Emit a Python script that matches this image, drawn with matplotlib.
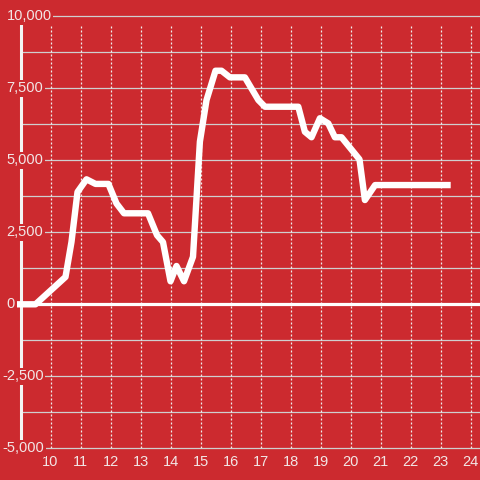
import matplotlib.pyplot as plt
import numpy as np

plt.rcParams['font.family'] = ['Liberation Sans', 'DejaVu Sans']

# series
x_vals = [8.87, 9.5, 10.5, 10.7, 10.9, 11.2, 11.5, 11.93, 12.2, 12.45, 13.25,
          13.55, 13.75, 14.0, 14.2, 14.45, 14.75, 14.98, 15.2, 15.5, 15.7,
          15.98, 16.48, 16.93, 17.15, 18.26, 18.48, 18.7, 18.98, 19.26, 19.48,
          19.7, 20.3, 20.48, 20.82, 23.34]
y_vals = [0, 0, 950, 2170, 3900, 4340, 4180, 4180, 3500, 3160, 3160,
          2400, 2160, 800, 1330, 800, 1650, 5650, 7090, 8110, 8110,
          7880, 7880, 7090, 6860, 6860, 5990, 5800, 6460, 6280, 5800,
          5800, 5030, 3620, 4140, 4140]

x_ticks = list(range(10, 25))
y_ticks = [10000, 7500, 5000, 2500, 0, -2500, -5000]
y_tick_labels = ['10,000', '7,500', '5,000', '2,500', '0', '-2,500', '-5,000']
y_grid = np.arange(-5000, 10001, 1250)

bg = '#cc2a2f'
grid_col = '#cfcfcf'
text_col = '#f2e6e6'

fig = plt.figure(figsize=(4.8, 4.8), dpi=100, facecolor=bg)
ax = fig.add_axes([0, (480 - 448.3) / 480, 1, (448.3 - 16.3) / 480])
ax.set_facecolor(bg)
for s in ax.spines.values():
    s.set_visible(False)

ax.set_xlim(10 - 50.5 / 30, 10 + 429.5 / 30)
ax.set_ylim(-5000, 10000)

# horizontal grid
ax.hlines(y_grid, 9, ax.get_xlim()[1], colors=grid_col, lw=0.9, zorder=1, clip_on=False)
# vertical dotted grid
ax.vlines(x_ticks, -5000, 9730, colors='#eeeeee', lw=0.9,
          linestyles=(0, (1.6, 1.6)), zorder=1)
# zero line and left axis line
ax.hlines(0, 9, ax.get_xlim()[1], colors='white', lw=2.3, zorder=2)
ax.vlines(9, -5000, 10000, colors='#f4f4f4', lw=2.2, zorder=2, clip_on=False)

ax.plot(x_vals, y_vals, color='white', lw=4.6, solid_capstyle='butt',
        solid_joinstyle='round', zorder=3)

# y labels drawn inside, over the axis line
for v, lab in zip(y_ticks, y_tick_labels):
    left_px = 2.0 if v < 0 else 6.5
    ax.text(left_px / 480, v, lab, transform=ax.get_yaxis_transform(),
            ha='left', va='center', fontsize=10.5, color=text_col, zorder=4,
            bbox=dict(boxstyle='square,pad=0.12', fc=bg, ec='none'))

ax.set_yticks([])
ax.set_xticks(x_ticks)
ax.set_xticklabels([str(t) for t in x_ticks])
ax.tick_params(axis='x', length=0, pad=5, labelsize=10.5, labelcolor=text_col)

fig.savefig('out.png', dpi=100, facecolor=bg)
